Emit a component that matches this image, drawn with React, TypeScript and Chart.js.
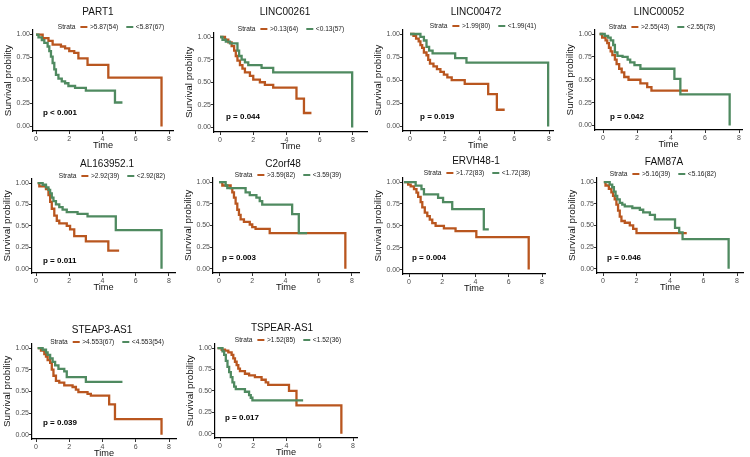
import React, { useEffect, useRef } from "react";
import { Chart, registerables } from "chart.js";

Chart.register(...registerables);

// ---------- data ----------
const timeTicks = [0, 2, 4, 6, 8];
const survTicks = [0, 0.25, 0.5, 0.75, 1];

const genes = ["PART1", "LINC00261", "LINC00472", "LINC00052", "AL163952.1", "C2orf48", "ERVH48-1", "FAM87A", "STEAP3-AS1", "TSPEAR-AS1"];
const highLabels = [">5.87(54)", ">0.13(64)", ">1.99(80)", ">2.55(43)", ">2.92(39)", ">3.59(82)", ">1.72(83)", ">5.16(39)", ">4.553(67)", ">1.52(85)"];
const lowLabels = ["<5.87(67)", "<0.13(57)", "<1.99(41)", "<2.55(78)", "<2.92(82)", "<3.59(39)", "<1.72(38)", "<5.16(82)", "<4.553(54)", "<1.52(36)"];
const pValues = ["p < 0.001", "p = 0.044", "p = 0.019", "p = 0.042", "p = 0.011", "p = 0.003", "p = 0.004", "p = 0.046", "p = 0.039", "p = 0.017"];

// [time, survival] step points (Kaplan-Meier)
const part1High = [[0, 1], [0.4, 0.96], [0.75, 0.93], [1.0, 0.89], [1.5, 0.87], [1.75, 0.85], [2.0, 0.82], [2.3, 0.8], [2.55, 0.74], [3.1, 0.67], [4.35, 0.53], [7.55, 0]];
const part1Low = [[0, 1], [0.15, 0.97], [0.35, 0.94], [0.5, 0.91], [0.7, 0.87], [0.8, 0.82], [0.9, 0.76], [1.0, 0.69], [1.1, 0.62], [1.2, 0.56], [1.35, 0.52], [1.55, 0.49], [1.75, 0.47], [1.95, 0.44], [2.35, 0.42], [3.0, 0.39], [4.75, 0.26], [5.2, 0.26]];

const linc261High = [[0, 1], [0.3, 0.97], [0.5, 0.94], [0.7, 0.9], [0.85, 0.85], [0.95, 0.79], [1.05, 0.74], [1.2, 0.69], [1.35, 0.65], [1.5, 0.61], [1.8, 0.57], [2.0, 0.53], [2.4, 0.5], [2.7, 0.47], [3.2, 0.44], [4.6, 0.32], [5.05, 0.16], [5.5, 0.16]];
const linc261Low = [[0, 1], [0.15, 0.97], [0.35, 0.95], [0.6, 0.93], [1.05, 0.85], [1.15, 0.79], [1.3, 0.75], [1.5, 0.72], [1.7, 0.69], [2.5, 0.66], [3.2, 0.61], [7.95, 0]];

const linc472High = [[0, 1], [0.2, 0.98], [0.35, 0.95], [0.5, 0.92], [0.6, 0.88], [0.7, 0.85], [0.8, 0.8], [0.95, 0.77], [1.05, 0.72], [1.15, 0.68], [1.35, 0.65], [1.55, 0.62], [1.75, 0.59], [1.95, 0.56], [2.15, 0.53], [2.4, 0.5], [3.15, 0.46], [4.5, 0.35], [5.0, 0.18], [5.45, 0.18]];
const linc472Low = [[0, 1], [0.6, 0.97], [0.8, 0.93], [0.95, 0.86], [1.1, 0.82], [1.3, 0.79], [2.6, 0.74], [3.25, 0.69], [7.95, 0]];

const linc52High = [[-0.2, 1], [-0.05, 0.96], [0.15, 0.93], [0.25, 0.9], [0.35, 0.85], [0.45, 0.81], [0.55, 0.77], [0.7, 0.72], [0.8, 0.67], [0.95, 0.62], [1.1, 0.58], [1.25, 0.53], [1.5, 0.5], [2.2, 0.46], [2.6, 0.42], [2.85, 0.38], [5.0, 0.38]];
const linc52Low = [[-0.2, 1], [0.1, 0.98], [0.3, 0.96], [0.45, 0.93], [0.6, 0.88], [0.7, 0.8], [0.85, 0.76], [1.15, 0.75], [1.45, 0.72], [1.6, 0.69], [1.85, 0.66], [2.2, 0.62], [4.2, 0.51], [4.55, 0.34], [7.45, 0]];

const al163High = [[0.1, 1], [0.2, 0.96], [0.6, 0.93], [0.75, 0.86], [0.85, 0.78], [0.95, 0.7], [1.1, 0.62], [1.25, 0.56], [1.4, 0.53], [1.85, 0.5], [2.05, 0.46], [2.3, 0.38], [3.0, 0.32], [4.35, 0.21], [5.0, 0.21]];
const al163Low = [[0.1, 1], [0.4, 0.98], [0.6, 0.95], [0.75, 0.92], [0.85, 0.88], [0.95, 0.83], [1.05, 0.79], [1.2, 0.75], [1.4, 0.72], [1.6, 0.69], [1.85, 0.66], [2.5, 0.64], [3.1, 0.61], [4.8, 0.45], [7.55, 0]];

const c2orfHigh = [[0, 1], [0.2, 0.96], [0.7, 0.93], [0.8, 0.88], [0.9, 0.82], [1.0, 0.75], [1.1, 0.68], [1.2, 0.62], [1.3, 0.57], [1.5, 0.54], [1.85, 0.51], [2.0, 0.48], [2.2, 0.46], [3.05, 0.41], [7.6, 0]];
const c2orfLow = [[0, 1], [0.4, 0.96], [0.5, 0.93], [1.6, 0.88], [1.85, 0.85], [2.25, 0.82], [2.45, 0.78], [2.6, 0.74], [4.4, 0.63], [4.8, 0.41], [5.3, 0.41]];

const ervhHigh = [[-0.3, 1], [-0.05, 0.97], [0.1, 0.95], [0.3, 0.92], [0.45, 0.88], [0.55, 0.83], [0.7, 0.77], [0.8, 0.71], [0.95, 0.65], [1.1, 0.61], [1.25, 0.57], [1.4, 0.53], [1.6, 0.5], [2.1, 0.47], [2.8, 0.44], [4.05, 0.37], [7.2, 0]];
const ervhLow = [[-0.3, 1], [0.4, 0.96], [0.75, 0.92], [0.9, 0.86], [1.75, 0.82], [2.05, 0.77], [2.6, 0.69], [4.5, 0.46], [4.8, 0.46]];

const fam87High = [[0.05, 1], [0.15, 0.96], [0.35, 0.92], [0.5, 0.88], [0.6, 0.84], [0.7, 0.8], [0.8, 0.74], [0.9, 0.67], [1.0, 0.6], [1.1, 0.55], [1.3, 0.53], [1.6, 0.5], [1.8, 0.46], [2.0, 0.41], [5.0, 0.41]];
const fam87Low = [[0.05, 1], [0.4, 0.97], [0.55, 0.94], [0.65, 0.89], [0.75, 0.84], [0.85, 0.8], [1.0, 0.76], [1.15, 0.74], [1.3, 0.72], [1.75, 0.7], [2.2, 0.68], [2.4, 0.65], [2.8, 0.62], [3.1, 0.57], [4.3, 0.47], [4.55, 0.42], [4.75, 0.34], [7.5, 0]];

const steapHigh = [[0.1, 1], [0.3, 0.97], [0.5, 0.93], [0.6, 0.9], [0.7, 0.86], [0.85, 0.83], [0.95, 0.75], [1.05, 0.68], [1.2, 0.62], [1.4, 0.6], [1.7, 0.57], [2.2, 0.55], [2.4, 0.52], [2.55, 0.49], [3.1, 0.47], [3.3, 0.45], [4.4, 0.35], [4.75, 0.18], [7.55, 0]];
const steapLow = [[0.1, 1], [0.4, 0.98], [0.6, 0.95], [0.7, 0.92], [0.85, 0.88], [1.0, 0.84], [1.15, 0.8], [1.35, 0.76], [1.7, 0.73], [1.85, 0.665], [3.0, 0.61], [5.2, 0.61]];

const tspearHigh = [[-0.15, 1], [0.1, 0.98], [0.3, 0.97], [0.5, 0.95], [0.7, 0.92], [0.8, 0.88], [0.9, 0.84], [1.0, 0.8], [1.1, 0.76], [1.2, 0.73], [1.5, 0.7], [1.75, 0.68], [2.1, 0.66], [2.5, 0.63], [2.75, 0.6], [2.9, 0.57], [4.15, 0.5], [4.6, 0.33], [7.3, 0]];
const tspearLow = [[-0.15, 1], [0.15, 0.96], [0.25, 0.92], [0.35, 0.85], [0.45, 0.78], [0.55, 0.72], [0.65, 0.66], [0.75, 0.6], [0.85, 0.55], [0.95, 0.52], [1.5, 0.49], [1.75, 0.45], [1.85, 0.42], [1.95, 0.39], [5.0, 0.39]];

const highCurves = [part1High, linc261High, linc472High, linc52High, al163High, c2orfHigh, ervhHigh, fam87High, steapHigh, tspearHigh];
const lowCurves = [part1Low, linc261Low, linc472Low, linc52Low, al163Low, c2orfLow, ervhLow, fam87Low, steapLow, tspearLow];

// ---------- layout (page pixels) ----------
type Layout = { px0: number; px8: number; py1: number; py0: number; axL: number; axR: number; titleX: number; titleY: number; legX: number; legY: number; pT: number; pS: number };
const layouts: Layout[] = [
  { px0: 36, px8: 169, py1: 34.5, py0: 125.5, axL: 33, axR: 173, titleX: 98, titleY: 12, legX: 111, legY: 27, pT: 0.42, pS: 0.145 },
  { px0: 220, px8: 353, py1: 37, py0: 127, axL: 214, axR: 367, titleX: 285, titleY: 12, legX: 291, legY: 29, pT: 0.36, pS: 0.12 },
  { px0: 410, px8: 549, py1: 34, py0: 126, axL: 403, axR: 553, titleX: 476, titleY: 12, legX: 483, legY: 26, pT: 0.58, pS: 0.1 },
  { px0: 603, px8: 739, py1: 34, py0: 125, axL: 595, axR: 742, titleX: 659, titleY: 12, legX: 662, legY: 27, pT: 0.41, pS: 0.09 },
  { px0: 36, px8: 169, py1: 183, py0: 268, axL: 32, axR: 175, titleX: 107, titleY: 164, legX: 112, legY: 176, pT: 0.42, pS: 0.09 },
  { px0: 219, px8: 352, py1: 182, py0: 268, axL: 213, axR: 359, titleX: 283, titleY: 164, legX: 288, legY: 175, pT: 0.18, pS: 0.12 },
  { px0: 409, px8: 542, py1: 182, py0: 269, axL: 403, axR: 545, titleX: 476, titleY: 161, legX: 477, legY: 173, pT: 0.18, pS: 0.13 },
  { px0: 603, px8: 737, py1: 182, py0: 268, axL: 597, axR: 743, titleX: 664, titleY: 162, legX: 663, legY: 174, pT: 0.24, pS: 0.12 },
  { px0: 36, px8: 169, py1: 348, py0: 434, axL: 32, axR: 176, titleX: 102, titleY: 330, legX: 107, legY: 342, pT: 0.42, pS: 0.14 },
  { px0: 220, px8: 353, py1: 348, py0: 433, axL: 215, axR: 357, titleX: 282, titleY: 328, legX: 288, legY: 340, pT: 0.3, pS: 0.18 },
];

const HIGH = "#B9561F";
const LOW = "#4F8A60";
const FONT = '"Liberation Sans", Arial, Helvetica, sans-serif';
const YW = 36; // y scale box width
const XH = 22; // x scale box height
const RP = 6; // right padding

function Panel({ i }: { i: number }) {
  const ref = useRef<HTMLCanvasElement>(null);
  const L = layouts[i];
  const dy = L.py0 - L.py1;
  const axT = L.py1 - 0.05 * dy;
  const axB = L.py0 + 0.05 * dy;
  const cl = L.axL - YW;
  const ct = Math.floor(L.titleY - 9);
  const W = L.axR - L.axL + YW + RP;
  const H = Math.ceil(axB + XH - ct);
  const unit = (L.px8 - L.px0) / 8;
  const xmin = (L.axL - L.px0) / unit;
  const xmax = (L.axR - L.px0) / unit;

  useEffect(() => {
    const canvas = ref.current;
    if (!canvas) return;
    const header = {
      id: "header" + i,
      afterDraw(chart: any) {
        const ctx = chart.ctx as CanvasRenderingContext2D;
        ctx.save();
        ctx.textBaseline = "middle";
        ctx.fillStyle = "#111";
        ctx.textAlign = "center";
        ctx.font = `10px ${FONT}`;
        ctx.fillText(genes[i], L.titleX - cl, L.titleY - ct);
        // legend
        ctx.font = `6.6px ${FONT}`;
        const wS = ctx.measureText("Strata").width;
        const w1 = ctx.measureText(highLabels[i]).width;
        const w2 = ctx.measureText(lowLabels[i]).width;
        const key = 7, g1 = 5, g2 = 2.5, g3 = 8;
        const total = wS + g1 + key + g2 + w1 + g3 + key + g2 + w2;
        let x = L.legX - cl - total / 2;
        const y = L.legY - ct;
        ctx.textAlign = "left";
        ctx.fillStyle = "#222";
        ctx.fillText("Strata", x, y);
        x += wS + g1;
        ctx.lineWidth = 2;
        ctx.strokeStyle = HIGH;
        ctx.beginPath(); ctx.moveTo(x, y); ctx.lineTo(x + key, y); ctx.stroke();
        x += key + g2;
        ctx.fillText(highLabels[i], x, y);
        x += w1 + g3;
        ctx.strokeStyle = LOW;
        ctx.beginPath(); ctx.moveTo(x, y); ctx.lineTo(x + key, y); ctx.stroke();
        x += key + g2;
        ctx.fillText(lowLabels[i], x, y);
        // p value
        ctx.fillStyle = "#000";
        ctx.font = `bold 8px ${FONT}`;
        ctx.fillText(pValues[i], chart.scales.x.getPixelForValue(L.pT), chart.scales.y.getPixelForValue(L.pS));
        ctx.restore();
      },
    };

    const toPts = (c: number[][]) => c.map(([x, y]) => ({ x, y }));
    const chart = new Chart(canvas, {
      type: "line",
      data: {
        datasets: [
          { label: lowLabels[i], data: toPts(lowCurves[i]), borderColor: LOW, backgroundColor: LOW, borderWidth: 2.3, pointRadius: 0, stepped: "before", fill: false },
          { label: highLabels[i], data: toPts(highCurves[i]), borderColor: HIGH, backgroundColor: HIGH, borderWidth: 2.3, pointRadius: 0, stepped: "before", fill: false },
        ],
      },
      options: {
        animation: false,
        responsive: false,
        devicePixelRatio: 1,
        events: [],
        layout: { padding: { left: 0, right: RP, top: axT - ct, bottom: 0 } },
        plugins: { legend: { display: false }, title: { display: false }, tooltip: { enabled: false } },
        scales: {
          x: {
            type: "linear",
            min: xmin,
            max: xmax,
            afterFit: (s: any) => { s.height = XH; },
            afterBuildTicks: (s: any) => { s.ticks = timeTicks.filter((v) => v >= xmin && v <= xmax).map((v) => ({ value: v })); },
            border: { display: true, color: "#000", width: 1.2 },
            grid: { display: true, drawOnChartArea: false, drawTicks: true, tickLength: 3, color: "#333", lineWidth: 1 },
            ticks: { autoSkip: false, maxRotation: 0, padding: 0.5, color: "#4D4D4D", font: { family: FONT, size: 7 }, callback: (v: any) => String(v) },
            title: { display: true, text: "Time", color: "#111", font: { family: FONT, size: 9.2, lineHeight: 1 }, padding: { top: 0, bottom: 2.5 } },
          },
          y: {
            type: "linear",
            min: -0.05,
            max: 1.05,
            afterFit: (s: any) => { s.width = YW; },
            afterBuildTicks: (s: any) => { s.ticks = survTicks.map((v) => ({ value: v })); },
            border: { display: true, color: "#000", width: 1.2 },
            grid: { display: true, drawOnChartArea: false, drawTicks: true, tickLength: 3, color: "#333", lineWidth: 1 },
            ticks: { autoSkip: false, padding: 0, color: "#4D4D4D", font: { family: FONT, size: 7 }, callback: (v: any) => Number(v).toFixed(2) },
            title: { display: true, text: "Survival probility", color: "#111", font: { family: FONT, size: 9.8, lineHeight: 1 }, padding: { top: YW - 25 - 4.9, bottom: 0 } },
          },
        },
      },
      plugins: [header],
    } as any);
    return () => chart.destroy();
  }, [i]);

  return <canvas ref={ref} width={W} height={H} style={{ position: "absolute", left: cl, top: ct, width: W, height: H }} />;
}

export default function App() {
  return (
    <div style={{ position: "absolute", left: 0, top: 0, width: 750, height: 457, background: "#fff", overflow: "hidden" }}>
      {genes.map((g, i) => (
        <Panel key={g} i={i} />
      ))}
    </div>
  );
}
